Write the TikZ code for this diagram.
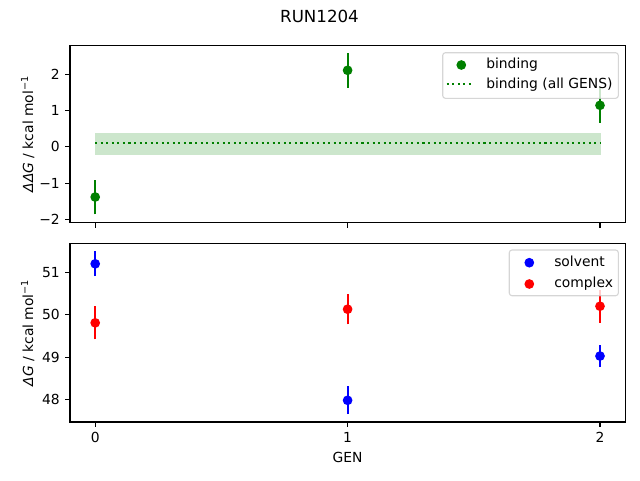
\documentclass[tikz,border=0pt]{standalone}
\usepackage{fontspec}
\setmainfont{DejaVu Sans}
\usepackage{tikz}
\usetikzlibrary{positioning}

\definecolor{mplgreen}{HTML}{008000}
\definecolor{mplblue}{HTML}{0000FF}
\definecolor{mplred}{HTML}{FF0000}
\definecolor{bandgreen}{HTML}{CCE6CC}
\definecolor{legendedge}{HTML}{CCCCCC}

\begin{document}
\begin{tikzpicture}[x=0.75pt, y=-0.75pt, font=\fontsize{10.4}{12.5}\selectfont,
    spine/.style={line width=0.83pt},
    tick/.style={line width=0.83pt},
    errbar/.style={line width=1.56pt},
    dot/.style={circle, fill, inner sep=0pt, minimum size=7.3pt},
    ticklab/.style={inner sep=0pt},
    legendframe/.style={draw=legendedge, fill=white, fill opacity=0.8, draw opacity=0.8, line width=0.83pt, rounded corners=2pt}]
  \useasboundingbox (0,0) rectangle (640,480);
  \node[font=\fontsize{12.5}{15}\selectfont] (title) at (319.5,16.5) {RUN1204};

  % top panel: binding
  \begin{scope}[shift={(95.2,146.8)}, x=189.3pt, y=27.19pt]
    \fill[bandgreen, draw=bandgreen] (0,-0.207) rectangle (2,0.372);
    \draw[mplgreen, line width=1.56pt, dash pattern=on 1.56pt off 2.6pt] (0,0.113) -- (2,0.113);
    \foreach \g/\v/\e in {0/-1.385/0.48, 1/2.11/0.48, 2/1.145/0.48} {
      \draw[errbar, mplgreen] (\g,\v-\e) -- (\g,\v+\e);
      \node[dot, mplgreen] (bind\g) at (\g,\v) {};
    }
    \draw[spine] (-0.1,-2.1) rectangle (2.1,2.8);
    \foreach \t/\lab in {-2/−2, -1/−1, 0/0, 1/1, 2/2}
      \draw[tick] (-0.1,\t) -- ++(-3.6pt,0) node[ticklab, left=3.6pt] {\lab};
    \foreach \g in {0,1,2}
      \draw[tick] (\g,-2.1) -- ++(0,-3.6pt);
  \end{scope}
  \node[rotate=90, anchor=base] (ylabtop) at (33,134) {{\itshape ΔΔG} / kcal mol\textsuperscript{−1}};
  % legend
  \draw[legendframe] (442.7,52.7) rectangle (618.3,98.3);
  \node[dot, mplgreen] (legbind) at (461.3,65) {};
  \node[anchor=base west, inner sep=0pt] (legbindtxt) at (486,68.5) {binding};
  \coordinate (legdotsA) at (446.7,83.7);
  \coordinate (legdotsB) at (473.3,83.7);
  \draw[mplgreen, line width=1.56pt, dash pattern=on 1.56pt off 2.6pt] (legdotsA) -- (legdotsB);
  \node[anchor=base west, inner sep=0pt] (legalltxt) at (486,88.3) {binding (all GENS)};

  % bottom panel: solvent and complex
  \begin{scope}[shift={(95.2,2443.4)}, x=189.3pt, y=31.93pt]
    \foreach \g/\v/\e in {0/51.196/0.29, 1/47.99/0.325, 2/49.03/0.255} {
      \draw[errbar, mplblue] (\g,\v-\e) -- (\g,\v+\e);
      \node[dot, mplblue] (solv\g) at (\g,\v) {};
    }
    \foreach \g/\v/\e in {0/49.81/0.39, 1/50.13/0.356, 2/50.2/0.384} {
      \draw[errbar, mplred] (\g,\v-\e) -- (\g,\v+\e);
      \node[dot, mplred] (cplx\g) at (\g,\v) {};
    }
    \draw[spine] (-0.1,47.48) rectangle (2.1,51.68);
    \foreach \t in {48,49,50,51}
      \draw[tick] (-0.1,\t) -- ++(-3.6pt,0) node[ticklab, left=3.6pt] {\t};
    \foreach \g in {0,1,2}
      \draw[tick] (\g,47.48) -- ++(0,-3.6pt) node[ticklab, below=3.6pt] (xlab\g) {\g};
  \end{scope}
  \node[below=7pt of xlab1, inner sep=0pt] (xlabel) {GEN};
  \node[rotate=90, anchor=base] (ylabbot) at (33,332.7) {{\itshape ΔG} / kcal mol\textsuperscript{−1}};
  % legend
  \draw[legendframe] (509.3,250) rectangle (618.3,295.7);
  \node[dot, mplblue] (legsolv) at (529.3,262.7) {};
  \node[anchor=base west, inner sep=0pt] (legsolvtxt) at (554,266.7) {solvent};
  \node[dot, mplred] (legcplx) at (529.3,284) {};
  \node[anchor=base west, inner sep=0pt] (legcplxtxt) at (554,287.7) {complex};
\end{tikzpicture}
\end{document}
